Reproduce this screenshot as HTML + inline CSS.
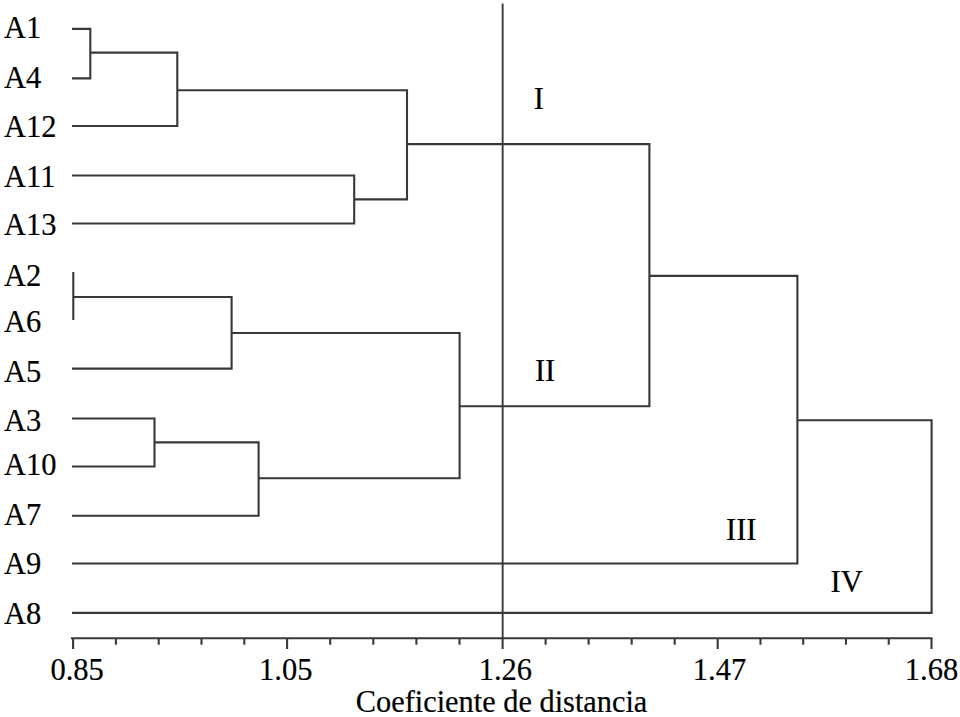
<!DOCTYPE html>
<html><head><meta charset="utf-8"><style>
html,body{margin:0;padding:0;background:#fff;overflow:hidden;}
svg{display:block;}
text{font-family:"Liberation Serif",serif;font-size:30.5px;fill:#000;stroke:#000;stroke-width:0.2px;}
</style></head><body>
<svg width="960" height="717" viewBox="0 0 960 717">
<g stroke="#383838" stroke-linecap="butt" stroke-linejoin="miter" fill="none">
<path d="M72.0 28.9H90.3V78.4H72.0" stroke-width="2.1"/>
<path d="M90.3 52.6H177.3V126.0H72.0" stroke-width="2.1"/>
<path d="M72.0 175.5H354.2V223.5H72.0" stroke-width="2.1"/>
<path d="M177.3 90.3H407V199.4H354.2" stroke-width="2.1"/>
<path d="M73.3 272.0V320.0" stroke-width="2.1"/>
<path d="M73.3 297H231.6V368.6H72.0" stroke-width="2.1"/>
<path d="M72.0 418.5H154.5V466.5H72.0" stroke-width="2.1"/>
<path d="M154.5 442.4H258.6V515.7H72.0" stroke-width="2.1"/>
<path d="M231.6 333.0H459.6V478.3H258.6" stroke-width="2.1"/>
<path d="M407 144.1H649.4V406.2H459.6" stroke-width="2.1"/>
<path d="M649.4 275.9H797.4V563.5H72.0" stroke-width="2.1"/>
<path d="M797.4 420.2H931.6V612.9H72.0" stroke-width="2.1"/>
<path d="M502.65 3.6V638.2" stroke-width="1.9"/>
<path d="M70.9 638.3H932.5" stroke-width="2.1"/>
<path d="M73.10 638.3V649.0" stroke-width="2.1"/>
<path d="M115.90 638.3V644.7" stroke-width="2.1"/>
<path d="M158.70 638.3V644.7" stroke-width="2.1"/>
<path d="M201.50 638.3V644.7" stroke-width="2.1"/>
<path d="M244.30 638.3V644.7" stroke-width="2.1"/>
<path d="M287.10 638.3V649.0" stroke-width="2.1"/>
<path d="M330.20 638.3V644.7" stroke-width="2.1"/>
<path d="M373.30 638.3V644.7" stroke-width="2.1"/>
<path d="M416.40 638.3V644.7" stroke-width="2.1"/>
<path d="M459.50 638.3V644.7" stroke-width="2.1"/>
<path d="M502.60 638.3V649.0" stroke-width="2.1"/>
<path d="M545.62 638.3V644.7" stroke-width="2.1"/>
<path d="M588.64 638.3V644.7" stroke-width="2.1"/>
<path d="M631.66 638.3V644.7" stroke-width="2.1"/>
<path d="M674.68 638.3V644.7" stroke-width="2.1"/>
<path d="M717.70 638.3V649.0" stroke-width="2.1"/>
<path d="M760.46 638.3V644.7" stroke-width="2.1"/>
<path d="M803.22 638.3V644.7" stroke-width="2.1"/>
<path d="M845.98 638.3V644.7" stroke-width="2.1"/>
<path d="M888.74 638.3V644.7" stroke-width="2.1"/>
<path d="M931.5 638.3V649.0" stroke-width="2.1"/>
</g>
<g>
<text transform="translate(4,37.9) scale(1,1.04)">A1</text>
<text transform="translate(4,87.7) scale(1,1.04)">A4</text>
<text transform="translate(4,136.8) scale(1,1.04)">A12</text>
<text transform="translate(4,187) scale(1,1.04)">A11</text>
<text transform="translate(4,234.8) scale(1,1.04)">A13</text>
<text transform="translate(4,286) scale(1,1.04)">A2</text>
<text transform="translate(4,332) scale(1,1.04)">A6</text>
<text transform="translate(4,381.8) scale(1,1.04)">A5</text>
<text transform="translate(4,430.7) scale(1,1.04)">A3</text>
<text transform="translate(4,474.8) scale(1,1.04)">A10</text>
<text transform="translate(4,524.6) scale(1,1.04)">A7</text>
<text transform="translate(4,573.8) scale(1,1.04)">A9</text>
<text transform="translate(4,623.7) scale(1,1.04)">A8</text>
<text transform="translate(50.5,679.8) scale(1,1.04)">0.85</text>
<text transform="translate(259.1,679.8) scale(1,1.04)">1.05</text>
<text transform="translate(478.7,679.8) scale(1,1.04)">1.26</text>
<text transform="translate(692.8,679.8) scale(1,1.04)">1.47</text>
<text transform="translate(904.8,679.8) scale(1,1.04)">1.68</text>
<text transform="translate(355.8,712) scale(0.9955,1.04)">Coeficiente de distancia</text>
<text transform="translate(533.8,108.8) scale(1,1.04)">I</text>
<text transform="translate(534.9,381) scale(1,1.04)">II</text>
<text transform="translate(726,540.4) scale(1,1.04)">III</text>
<text transform="translate(830.5,592) scale(1,1.04)">IV</text>
</g>
</svg>
</body></html>
